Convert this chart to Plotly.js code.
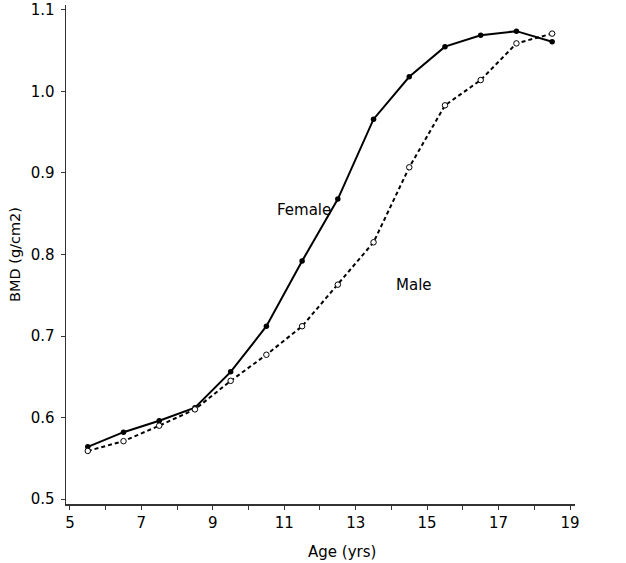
<!DOCTYPE html>
<html>
<head>
<meta charset="utf-8">
<script src="https://cdn.plot.ly/plotly-3.0.1.min.js"></script>
<style>html,body{margin:0;padding:0;background:#fff;}#chart{width:626px;height:563px;}</style>
</head>
<body>
<div id="chart"></div>
<script>
const ages = [5.5, 6.5, 7.5, 8.5, 9.5, 10.5, 11.5, 12.5, 13.5, 14.5, 15.5, 16.5, 17.5, 18.5];
const femaleBMD = [0.564, 0.582, 0.596, 0.612, 0.656, 0.712, 0.792, 0.868, 0.966, 1.018, 1.055, 1.069, 1.074, 1.061];
const maleBMD = [0.559, 0.571, 0.590, 0.610, 0.645, 0.677, 0.712, 0.763, 0.815, 0.907, 0.983, 1.014, 1.059, 1.071];
const xTickVals = [5, 6, 7, 8, 9, 10, 11, 12, 13, 14, 15, 16, 17, 18, 19];
const xTickText = ['5', '', '7', '', '9', '', '11', '', '13', '', '15', '', '17', '', '19'];
const yTickVals = [0.5, 0.6, 0.7, 0.8, 0.9, 1.0, 1.1];
const yTickText = ['0.5', '0.6', '0.7', '0.8', '0.9', '1.0', '1.1'];

const font = 'DejaVu Sans, Verdana, sans-serif';
const axisColor = '#333';

const traces = [
  {
    x: ages, y: femaleBMD, name: 'Female', type: 'scatter', mode: 'lines+markers',
    line: {color: '#000', width: 2},
    marker: {color: '#000', size: 5.5, symbol: 'circle'}
  },
  {
    x: ages, y: maleBMD, name: 'Male', type: 'scatter', mode: 'lines+markers',
    line: {color: '#000', width: 2, dash: '4px,3px'},
    marker: {color: '#fff', size: 5.5, symbol: 'circle', line: {color: '#000', width: 1}}
  }
];

const layout = {
  width: 626, height: 563,
  margin: {l: 66, r: 51, t: 5, b: 59},
  paper_bgcolor: '#fff', plot_bgcolor: '#fff',
  showlegend: false,
  font: {family: font, color: '#000', size: 15},
  xaxis: {
    range: [4.89, 19.14],
    tickvals: xTickVals, ticktext: xTickText,
    ticks: 'outside', ticklen: 4, tickwidth: 1, tickcolor: axisColor,
    showline: true, linecolor: axisColor, linewidth: 1.5,
    showgrid: false, zeroline: false,
    tickfont: {family: font, size: 15, color: '#000'}
  },
  yaxis: {
    range: [0.4939, 1.1061],
    tickvals: yTickVals, ticktext: yTickText,
    ticks: 'outside', ticklen: 4, tickwidth: 1, tickcolor: axisColor,
    ticklabelstandoff: 3,
    showline: true, linecolor: axisColor, linewidth: 1.5,
    showgrid: false, zeroline: false,
    tickfont: {family: font, size: 15, color: '#000'},
    title: {text: 'BMD (g/cm2)', font: {family: font, size: 14.5, color: '#000'}, standoff: 6}
  },
  annotations: [
    {x: 0.543, y: -0.096, xref: 'paper', yref: 'paper', xanchor: 'center', yanchor: 'middle',
     text: 'Age (yrs)', showarrow: false, font: {family: font, size: 15, color: '#000'}},
    {x: 11.55, y: 0.855, xref: 'x', yref: 'y', text: 'Female', showarrow: false, font: {family: font, size: 15, color: '#000'}},
    {x: 14.62, y: 0.763, xref: 'x', yref: 'y', text: 'Male', showarrow: false, font: {family: font, size: 15, color: '#000'}}
  ]
};

Plotly.newPlot('chart', traces, layout, {displayModeBar: false, staticPlot: true});
</script>
</body>
</html>
